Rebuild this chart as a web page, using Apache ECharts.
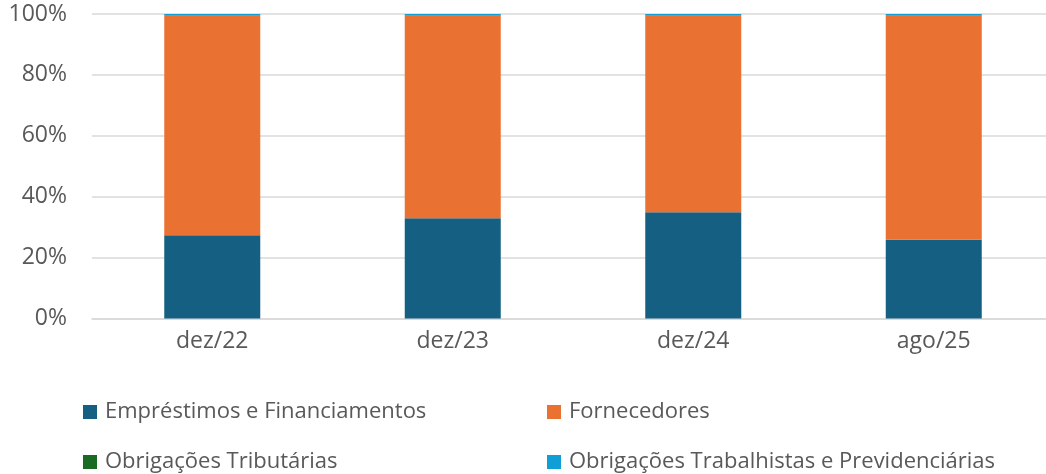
<!DOCTYPE html>
<html>
<head>
<meta charset="utf-8">
<script src="https://cdn.jsdelivr.net/npm/echarts@6/dist/echarts.min.js"></script>
<style>
html,body{margin:0;padding:0;background:#fff;}
#c{width:1046px;height:474px;}
</style>
</head>
<body>
<div id="c"></div>
<script>
const categories = ['dez/22', 'dez/23', 'dez/24', 'ago/25'];
const emprestimos = [27.3, 32.9, 34.9, 25.9];
const tributarias = [0.1, 0.1, 0.1, 0.1];
const trabalhistas = [0.3, 0.3, 0.3, 0.3];
const fornecedores = [72.3, 66.7, 64.7, 73.7];
const yTicks = [0, 20, 40, 60, 80, 100];

const seriesNames = ['Empréstimos e Financiamentos', 'Fornecedores', 'Obrigações Tributárias', 'Obrigações Trabalhistas e Previdenciárias'];
const colors = ['#156082', '#E97132', '#196B24', '#0F9ED5'];
const font = '"Open Sans", sans-serif';
const txt = '#595959';

const chart = echarts.init(document.getElementById('c'));
const legendText = {color: txt, fontSize: 22, fontFamily: font, lineHeight: 20, padding: [0, 0, 0, 3]};
chart.setOption({
  animation: false,
  color: colors,
  grid: {left: 92, top: 14, width: 962, height: 304.5, containLabel: false, outerBoundsMode: 'none'},
  legend: [
    {data: [seriesNames[0], seriesNames[2]], orient: 'vertical', left: 83, top: 401, padding: 0,
     itemWidth: 14, itemHeight: 14, itemGap: 28, icon: 'rect', textStyle: legendText},
    {data: [seriesNames[1], seriesNames[3]], orient: 'vertical', left: 547, top: 401, padding: 0,
     itemWidth: 14, itemHeight: 14, itemGap: 28, icon: 'rect', textStyle: legendText}
  ],
  xAxis: {
    type: 'category', data: categories,
    axisLine: {lineStyle: {color: '#d9d9d9', width: 1.5}},
    axisTick: {show: false},
    axisLabel: {color: txt, fontSize: 23, fontFamily: font, margin: 11}
  },
  yAxis: {
    type: 'value', min: 0, max: 100, interval: 20,
    axisLabel: {color: txt, fontSize: 23, fontFamily: font, margin: 25,
      formatter: v => yTicks.includes(v) ? v + '%' : ''},
    splitLine: {lineStyle: {color: '#d9d9d9', width: 1.5}},
    axisLine: {show: false}, axisTick: {show: false}
  },
  series: [
    {name: seriesNames[0], type: 'bar', stack: 't', data: emprestimos, barWidth: 96},
    {name: seriesNames[1], type: 'bar', stack: 't', data: fornecedores, barWidth: 96},
    {name: seriesNames[2], type: 'bar', stack: 't', data: tributarias, barWidth: 96},
    {name: seriesNames[3], type: 'bar', stack: 't', data: trabalhistas, barWidth: 96}
  ]
});
</script>
</body>
</html>
